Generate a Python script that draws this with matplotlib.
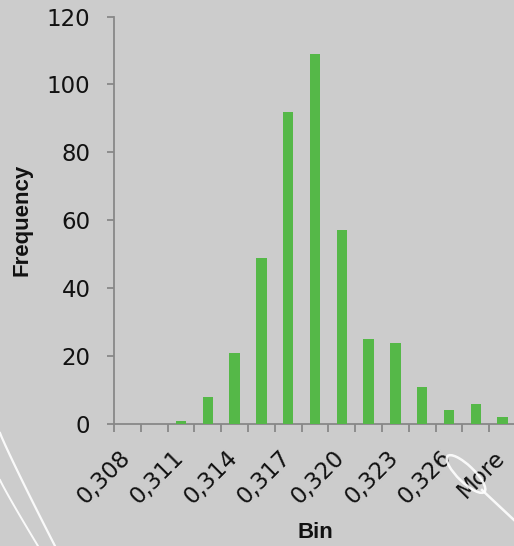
import numpy as np
import matplotlib
matplotlib.use("Agg")
import matplotlib.pyplot as plt
import matplotlib.transforms as mtransforms
from matplotlib.patches import Ellipse
from matplotlib.lines import Line2D

# histogram bins (upper edges) and counts
bins = ["0,308", "0,310", "0,311", "0,313", "0,314", "0,316", "0,317", "0,319",
        "0,320", "0,322", "0,323", "0,325", "0,326", "0,328", "More"]
freq = [0, 0, 1, 8, 21, 49, 92, 109, 57, 25, 24, 11, 4, 6, 2]
y_ticks = [0, 20, 40, 60, 80, 100, 120]

BG = "#cccccc"
BAR = "#55b848"
AXIS = "#888888"

W, H = 514, 546
fig = plt.figure(figsize=(W / 100, H / 100), dpi=100, facecolor=BG)
ax = fig.add_axes([114 / W, 122 / H, 402 / W, 407.5 / H])
ax.set_facecolor(BG)

x = np.arange(len(bins))
ax.bar(x, freq, width=0.39, color=BAR, zorder=3)

ax.set_xlim(-0.5, len(bins) - 0.5)
ax.set_ylim(0, 120)

for side in ("top", "right"):
    ax.spines[side].set_visible(False)
for side in ("left", "bottom"):
    ax.spines[side].set_color(AXIS)
    ax.spines[side].set_linewidth(1.3)

tick_font = {"family": "DejaVu Sans", "size": 16.5, "color": "#111111"}

ax.set_yticks(y_ticks)
ax.set_yticklabels([str(v) for v in y_ticks], fontdict=tick_font)
ax.tick_params(axis="y", direction="out", length=5, width=1.3, color=AXIS, pad=12)

# labels on every other bin, tick marks on bin boundaries
ax.set_xticks(x[::2])
ax.set_xticklabels(bins[::2], fontdict=tick_font, rotation=45,
                   ha="right", va="top", rotation_mode="anchor")
ax.set_xticks(np.arange(-0.5, len(bins), 1.0), minor=True)
ax.tick_params(axis="x", which="major", length=0, pad=16)
ax.tick_params(axis="x", which="minor", direction="out", length=5.5,
               width=1.3, color=AXIS)
shift = mtransforms.ScaledTranslation(-9 / 100, 0, fig.dpi_scale_trans)
for lab in ax.get_xticklabels():
    lab.set_transform(lab.get_transform() + shift)

title_font = {"family": "Liberation Sans", "size": 16, "weight": "bold",
              "color": "#111111"}
fig.text(315 / W, 1 - 532 / H, "Bin", ha="center", va="center", **title_font)
fig.text(22 / W, 1 - 220 / H, "Frequency", rotation=90, ha="center",
         va="center", **title_font)

# white swoosh decorations in the corners
def px_line(xs, ys, **kw):
    xs = np.asarray(xs, float) / W
    ys = 1 - np.asarray(ys, float) / H
    fig.add_artist(Line2D(xs, ys, transform=fig.transFigure, **kw))

t = np.linspace(0, 1, 40)
px_line(0 + 55 * t, 433 + 113 * t ** 0.95, color="white", lw=1.6, alpha=0.9)
px_line(0 + 38 * t, 480 + 66 * t ** 0.95, color="white", lw=1.4, alpha=0.9)
px_line(482 + 32 * t, 490 + 30 * t, color="white", lw=1.8, alpha=0.9)
fig.add_artist(Ellipse((466 / W, 1 - 474 / H), 50 / W, 17 / H, angle=-42,
                       transform=fig.transFigure, fill=False,
                       edgecolor="white", lw=1.8, alpha=0.9))

fig.savefig("out.png", dpi=100, facecolor=BG)
